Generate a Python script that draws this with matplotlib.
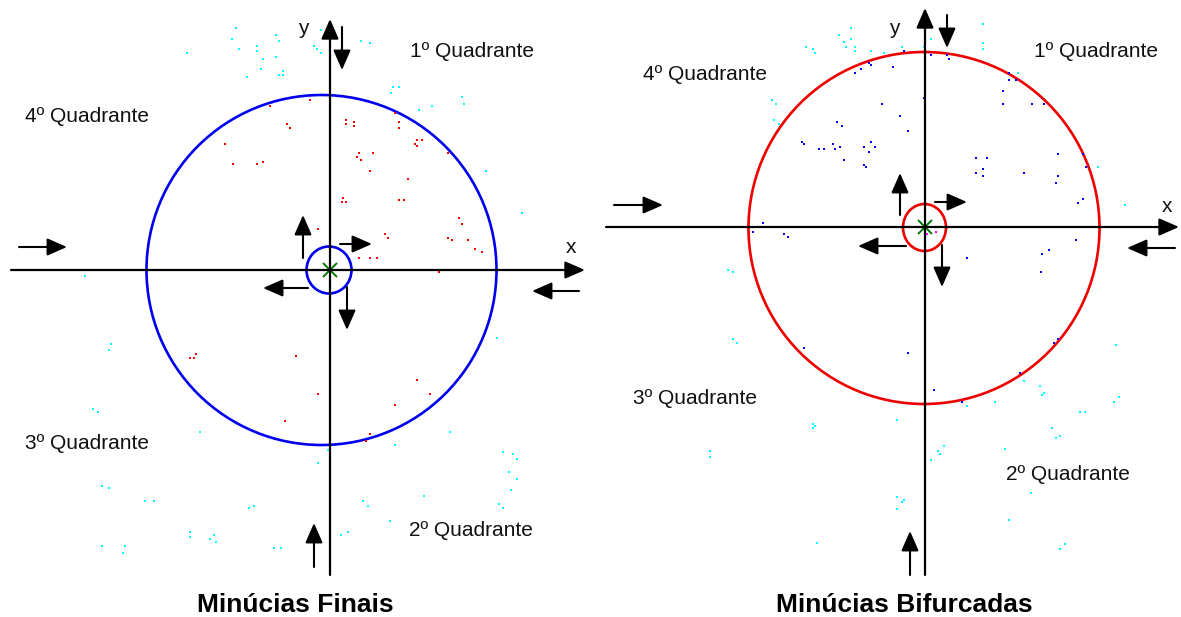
import matplotlib.pyplot as plt
from matplotlib.patches import Ellipse

# ---- data (pixel coordinates of the reference drawing) ----
# left panel: "Minúcias Finais"
fin_red_x = [270, 287, 290, 225, 233, 257, 263, 310, 346, 346, 354, 354, 395, 399, 399, 417, 422,
             415, 417, 359, 373, 357, 361, 448, 370, 408, 343, 342, 346, 399, 404, 318, 459, 462,
             385, 388, 448, 452, 468, 475, 482, 359, 370, 377, 439, 190, 194, 196, 296, 285, 318,
             417, 430, 395, 370, 366]
fin_red_y = [106, 124, 128, 144, 164, 164, 162, 100, 120, 124, 122, 126, 113, 122, 128, 140, 140,
             144, 146, 153, 153, 157, 160, 153, 171, 179, 198, 202, 202, 200, 200, 229, 218, 224,
             234, 238, 238, 240, 240, 249, 252, 258, 258, 258, 272, 358, 358, 354, 356, 421, 394,
             380, 394, 405, 434, 441]
fin_cyan_x = [236, 232, 239, 257, 257, 276, 279, 187, 263, 276, 261, 283, 279, 283, 247, 85, 321,
              314, 317, 321, 361, 370, 393, 399, 391, 462, 464, 419, 432, 486, 522, 111, 109, 93,
              98, 200, 102, 109, 145, 154, 249, 254, 190, 190, 214, 210, 216, 102, 125, 123, 274,
              281, 497, 450, 395, 328, 318, 503, 513, 517, 509, 517, 511, 424, 363, 368, 499, 503,
              390, 341, 348]
fin_cyan_y = [28, 39, 49, 46, 51, 35, 41, 53, 59, 57, 69, 71, 75, 75, 77, 276, 30, 46, 49, 53, 41,
              43, 87, 87, 93, 97, 104, 110, 106, 171, 213, 344, 350, 409, 412, 432, 486, 488, 501,
              501, 508, 506, 532, 537, 535, 539, 542, 546, 546, 553, 548, 548, 338, 432, 445, 450,
              463, 452, 454, 459, 472, 479, 490, 496, 501, 506, 504, 508, 521, 535, 532]

# right panel: "Minúcias Bifurcadas"
bif_blue_x = [869, 871, 861, 855, 882, 837, 842, 802, 804, 819, 824, 833, 835, 840, 864, 871, 869,
              875, 844, 864, 866, 763, 768, 753, 784, 788, 931, 947, 949, 904, 893, 924, 900, 908,
              1009, 1009, 1016, 1003, 1003, 1032, 1044, 976, 987, 983, 976, 983, 1024, 1058, 1058,
              1056, 1083, 1086, 1083, 1078, 1076, 1049, 1042, 1041, 967, 804, 908, 934, 962, 1020,
              1054, 1058]
bif_blue_y = [63, 65, 69, 73, 104, 122, 126, 142, 144, 149, 149, 144, 149, 147, 147, 142, 152, 147,
              160, 165, 167, 223, 227, 232, 234, 237, 55, 55, 59, 51, 67, 98, 116, 131, 73, 80, 80,
              91, 104, 104, 104, 158, 158, 169, 173, 176, 173, 154, 176, 183, 154, 167, 199, 203,
              240, 250, 254, 272, 258, 348, 353, 390, 402, 373, 343, 339]
bif_cyan_x = [851, 839, 851, 844, 846, 855, 855, 871, 806, 813, 815, 884, 772, 776, 774, 779, 728,
              733, 983, 983, 983, 931, 902, 924, 1018, 1098, 1125, 733, 737, 813, 815, 813, 710,
              710, 817, 1116, 1024, 1040, 1044, 1042, 1119, 1114, 995, 967, 1080, 1085, 897, 1052,
              1060, 1056, 944, 938, 940, 931, 1005, 1031, 897, 904, 902, 897, 1009, 1065, 1060]
bif_cyan_y = [28, 35, 39, 42, 47, 47, 51, 51, 47, 49, 53, 53, 100, 104, 120, 124, 270, 272, 24, 43,
              49, 39, 47, 47, 73, 167, 205, 339, 343, 424, 426, 428, 451, 457, 543, 345, 381, 386,
              393, 395, 397, 402, 402, 406, 412, 412, 420, 428, 436, 438, 446, 451, 454, 460, 449,
              493, 497, 500, 502, 509, 520, 544, 549]
bif_mag_x = [933, 936, 927]
bif_mag_y = [227, 232, 234]

# circles: (centre x, centre y, width, height)
fin_circles = [(321.5, 270, 350, 350), (329, 270, 45, 47)]
bif_circles = [(924, 228, 351, 352), (924.5, 227.5, 43, 47)]
cores = [(330, 270), (925, 227)]

# axes: (tail, tip)
axis_lines = [((11, 270), (585, 270)), ((330, 575), (330, 19)),
              ((606, 227), (1179, 227)), ((925, 575), (925, 8))]
# small direction arrows: (tail, tip)
dir_arrows = [((19, 247), (67, 247)), ((308, 288), (263, 288)), ((342, 27), (342, 70)),
              ((303, 258), (303, 215)), ((340, 244), (372, 244)), ((347, 287), (347, 330)),
              ((579, 291), (532, 291)), ((314, 567), (314, 523)),
              ((614, 205), (663, 205)), ((906, 246), (858, 246)), ((947, 15), (947, 48)),
              ((900, 215), (900, 173)), ((935, 202), (967, 202)), ((942, 245), (942, 287)),
              ((1175, 248), (1127, 248)), ((910, 575), (910, 531))]

quad_labels = ['1º Quadrante', '4º Quadrante', '3º Quadrante', '2º Quadrante',
               '1º Quadrante', '4º Quadrante', '3º Quadrante', '2º Quadrante']
quad_pos = [(410, 57), (25, 122), (25, 449), (409, 536),
            (1034, 57), (643, 80), (633, 404), (1006, 480)]
titles = ['Minúcias Finais', 'Minúcias Bifurcadas']
title_x = [295, 904]

# ---- drawing ----
plt.rcParams['font.family'] = ['Liberation Sans', 'DejaVu Sans']
fig = plt.figure(figsize=(11.81, 6.17), dpi=100)
ax = fig.add_axes([0, 0, 1, 1])
ax.set_xlim(0, 1181)
ax.set_ylim(617, 0)
ax.axis('off')

for (cx, cy, w, h) in fin_circles:
    ax.add_patch(Ellipse((cx, cy), w, h, fill=False, edgecolor='#0000ee', lw=1.9))
for (cx, cy, w, h) in bif_circles:
    ax.add_patch(Ellipse((cx, cy), w, h, fill=False, edgecolor='#ee0000', lw=1.9))

arrow_style = '-|>,head_length=0.55,head_width=0.24'
for tail, tip in axis_lines:
    ax.annotate('', xy=tip, xytext=tail,
                arrowprops=dict(arrowstyle=arrow_style, mutation_scale=22, lw=1.6,
                                color='black', shrinkA=0, shrinkB=0))
for tail, tip in dir_arrows:
    ax.annotate('', xy=tip, xytext=tail,
                arrowprops=dict(arrowstyle=arrow_style, mutation_scale=22, lw=1.5,
                                color='black', shrinkA=0, shrinkB=0))

ax.scatter(fin_red_x, fin_red_y, s=4.5, marker='s', color='#ff0000', linewidths=0)
ax.scatter(fin_cyan_x, fin_cyan_y, s=4.5, marker='s', color='#00ffff', linewidths=0)
ax.scatter(bif_blue_x, bif_blue_y, s=4.5, marker='s', color='#0000ff', linewidths=0)
ax.scatter(bif_cyan_x, bif_cyan_y, s=4.5, marker='s', color='#00ffff', linewidths=0)
ax.scatter(bif_mag_x, bif_mag_y, s=3.5, marker='s', color='#ff00ff', linewidths=0)
for cx, cy in cores:
    ax.plot(cx, cy, marker='x', color='#007700', ms=10, mew=1.4)

for txt, (x, y) in zip(quad_labels, quad_pos):
    ax.text(x, y, txt, fontsize=15, ha='left', va='baseline', color='#111111')
for txt, x, y in [('y', 303, 34), ('x', 571, 253), ('y', 894, 34), ('x', 1167, 212)]:
    ax.text(x, y, txt, fontsize=15, ha='center', va='baseline', color='#111111')
for txt, x in zip(titles, title_x):
    ax.text(x, 612, txt, fontsize=19, fontweight='bold', ha='center', va='baseline')

fig.savefig('out.png', dpi=100)
